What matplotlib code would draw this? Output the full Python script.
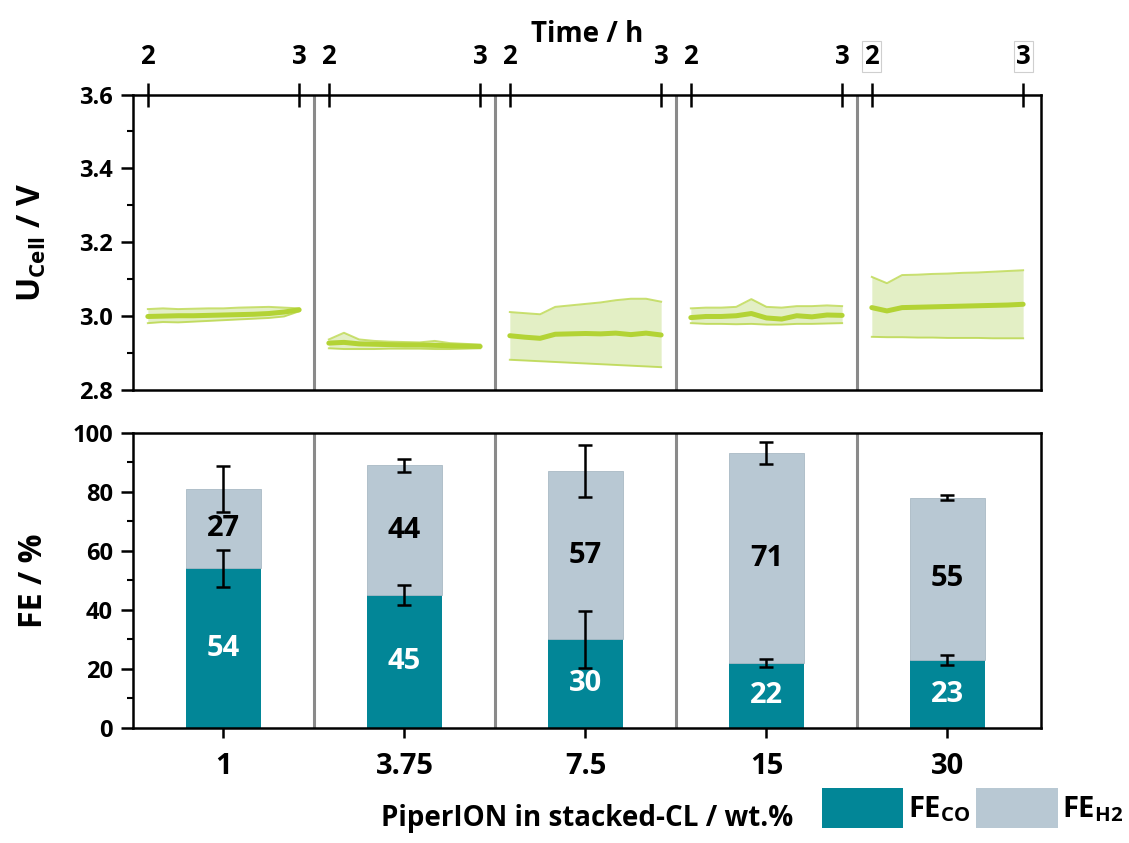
import numpy as np
import matplotlib
matplotlib.use("Agg")
import matplotlib.pyplot as plt
from matplotlib.patches import Patch
from matplotlib.ticker import MultipleLocator

plt.rcParams["font.family"] = ["Open Sans", "DejaVu Sans"]
plt.rcParams["font.weight"] = "bold"
plt.rcParams["axes.labelweight"] = "bold"
plt.rcParams["mathtext.fontset"] = "custom"
plt.rcParams["mathtext.rm"] = "Open Sans:bold"
plt.rcParams["mathtext.bf"] = "Open Sans:bold"
plt.rcParams["axes.linewidth"] = 1.8

# ---- data -------------------------------------------------------------
loading = ["1", "3.75", "7.5", "15", "30"]          # PiperION wt.%
fe_co = np.array([54, 45, 30, 22, 23])
fe_h2 = np.array([27, 44, 57, 71, 55])
fe_co_err = np.array([6.4, 3.3, 9.7, 1.4, 1.7])
fe_tot_err = np.array([7.8, 2.2, 8.7, 3.8, 0.7])

time_h = np.array([2.0, 2.1, 2.2, 2.3, 2.4, 2.5, 2.6, 2.7, 2.8, 2.9, 3.0])

u_mean = [
    [3.000, 3.001, 3.002, 3.002, 3.003, 3.004, 3.005, 3.006, 3.008, 3.012, 3.018],
    [2.928, 2.930, 2.926, 2.925, 2.924, 2.923, 2.923, 2.922, 2.921, 2.920, 2.919],
    [2.948, 2.944, 2.941, 2.952, 2.953, 2.954, 2.953, 2.955, 2.951, 2.955, 2.950],
    [2.997, 3.000, 3.000, 3.002, 3.008, 2.996, 2.993, 3.002, 2.999, 3.004, 3.003],
    [3.024, 3.015, 3.024, 3.025, 3.026, 3.027, 3.028, 3.029, 3.030, 3.031, 3.033],
]
u_upper = [
    [3.020, 3.022, 3.020, 3.021, 3.022, 3.022, 3.024, 3.025, 3.026, 3.024, 3.022],
    [2.938, 2.956, 2.938, 2.934, 2.932, 2.931, 2.930, 2.934, 2.928, 2.926, 2.924],
    [3.012, 3.009, 3.006, 3.026, 3.030, 3.034, 3.038, 3.044, 3.048, 3.048, 3.040],
    [3.022, 3.024, 3.024, 3.026, 3.047, 3.026, 3.024, 3.028, 3.028, 3.030, 3.028],
    [3.107, 3.090, 3.112, 3.113, 3.115, 3.116, 3.118, 3.119, 3.121, 3.123, 3.125],
]
u_lower = [
    [2.982, 2.985, 2.984, 2.986, 2.988, 2.990, 2.992, 2.994, 2.996, 3.000, 3.014],
    [2.914, 2.912, 2.912, 2.912, 2.913, 2.913, 2.913, 2.912, 2.912, 2.913, 2.914],
    [2.883, 2.881, 2.879, 2.877, 2.875, 2.873, 2.871, 2.869, 2.867, 2.865, 2.863],
    [2.982, 2.980, 2.980, 2.979, 2.980, 2.978, 2.978, 2.980, 2.980, 2.981, 2.982],
    [2.945, 2.944, 2.944, 2.943, 2.943, 2.942, 2.942, 2.942, 2.941, 2.941, 2.941],
]

TEAL = "#028697"
GREY = "#b8c8d3"
GREEN = "#b3d335"
BAND = "#e3efc5"
DIV = "#8a8a8a"

# time (h) inside each panel segment -> category coordinate
H_SCALE = 0.836


def seg_x(i, t):
    return i + (np.asarray(t) - 2.5) * H_SCALE


fig = plt.figure(figsize=(11.29, 8.43), dpi=100)
ax_u = fig.add_axes([0.1178, 0.5368, 0.8043, 0.3511])
ax_fe = fig.add_axes([0.1178, 0.1364, 0.8043, 0.3505])
xpos = np.arange(len(loading))

# ---- cell voltage ------------------------------------------------------
for i in xpos:
    xs = seg_x(i, time_h)
    ax_u.fill_between(xs, u_lower[i], u_upper[i], color=BAND, lw=0, zorder=1)
    ax_u.plot(xs, u_upper[i], color=GREEN, lw=1.4, alpha=0.7, zorder=2)
    ax_u.plot(xs, u_lower[i], color=GREEN, lw=1.4, alpha=0.7, zorder=2)
    ax_u.plot(xs, u_mean[i], color=GREEN, lw=3.6, zorder=3,
              solid_capstyle="round")

ax_u.set_xlim(-0.5, 4.517)
ax_u.set_ylim(2.8, 3.6)
ax_u.yaxis.set_major_locator(MultipleLocator(0.2))
ax_u.yaxis.set_minor_locator(MultipleLocator(0.1))
ax_u.yaxis.set_major_formatter(plt.FormatStrFormatter("%.1f"))
ax_u.tick_params(axis="y", which="major", direction="out", length=8.5,
                 width=1.8, labelsize=17, pad=6)
ax_u.tick_params(axis="y", which="minor", direction="out", length=4.5, width=1.5)

top_ticks = np.concatenate([seg_x(i, [2, 3]) for i in xpos])
ax_u.xaxis.tick_top()
ax_u.set_xticks(top_ticks)
ax_u.set_xticklabels(["2", "3"] * len(loading))
ax_u.tick_params(axis="x", direction="inout", length=17, width=1.8,
                 labelsize=18.5, pad=9)
for lab in ax_u.get_xticklabels()[-2:]:
    lab.set_bbox(dict(fc="none", ec="#cfcfcf", lw=0.8, pad=1.5))
ax_u.xaxis.set_label_position("top")
ax_u.set_xlabel("Time / h", fontsize=20, labelpad=1)
ax_u.set_ylabel(r"U$_\mathbf{Cell}$ / V", fontsize=23)
ax_u.yaxis.set_label_coords(-0.093, 0.5)

# ---- Faradaic efficiency ----------------------------------------------
b_co = ax_fe.bar(xpos, fe_co, width=0.415, color=TEAL, zorder=2)
b_h2 = ax_fe.bar(xpos, fe_h2, width=0.415, bottom=fe_co, color=GREY,
                 edgecolor="#a9bac5", lw=0.6, zorder=2)
ax_fe.errorbar(xpos, fe_co, yerr=fe_co_err, fmt="none", ecolor="black",
               elinewidth=1.8, capsize=5, capthick=1.8, zorder=4)
ax_fe.errorbar(xpos, fe_co + fe_h2, yerr=fe_tot_err, fmt="none", ecolor="black",
               elinewidth=1.8, capsize=5, capthick=1.8, zorder=4)
ax_fe.bar_label(b_co, labels=[str(v) for v in fe_co], label_type="center",
                color="white", fontsize=21, fontweight="bold")
ax_fe.bar_label(b_h2, labels=[str(v) for v in fe_h2], label_type="center",
                color="black", fontsize=21, fontweight="bold")

ax_fe.set_xlim(-0.5, 4.517)
ax_fe.set_ylim(0, 100)
ax_fe.set_xticks(xpos)
ax_fe.set_xticklabels(loading)
ax_fe.yaxis.set_major_locator(MultipleLocator(20))
ax_fe.yaxis.set_minor_locator(MultipleLocator(10))
ax_fe.tick_params(axis="x", direction="out", length=7, width=1.8,
                  labelsize=21, pad=10)
ax_fe.tick_params(axis="y", which="major", direction="out", length=8.5,
                  width=1.8, labelsize=17, pad=6)
ax_fe.tick_params(axis="y", which="minor", direction="out", length=4.5, width=1.5)
ax_fe.set_ylabel("FE / %", fontsize=23)
ax_fe.yaxis.set_label_coords(-0.091, 0.5)
ax_fe.set_xlabel("PiperION in stacked-CL / wt.%", fontsize=20, labelpad=17)

for ax in (ax_u, ax_fe):
    for d in xpos[:-1] + 0.5:
        ax.axvline(d, color=DIV, lw=2.2, zorder=0)

fig.legend(handles=[Patch(fc=TEAL, label=r"FE$_\mathbf{CO}$"),
                    Patch(fc=GREY, label=r"FE$_\mathbf{H2}$")],
           loc="lower right", bbox_to_anchor=(1.008, 0.0), ncol=2,
           frameon=False, fontsize=21, handlelength=2.8, handleheight=1.76,
           handletextpad=0.15, columnspacing=0.2, borderpad=0)

fig.savefig("out.png", dpi=100)
